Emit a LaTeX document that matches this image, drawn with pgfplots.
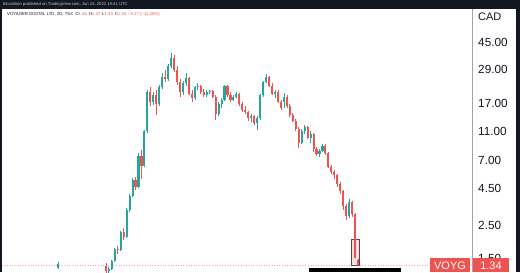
\documentclass[border=0pt]{standalone}
\usepackage{pgfplots}
\pgfplotsset{compat=1.18}
\usepackage{pgfplotstable}
\usepackage{fontspec}
\setmainfont{Liberation Sans}
\definecolor{up}{RGB}{38,166,154}
\definecolor{down}{RGB}{239,83,80}
\definecolor{tvdark}{RGB}{19,23,34}
\definecolor{axisgray}{RGB}{160,163,170}

% up candles: index, open, high, low, close
\pgfplotstableread{
x o h l c
19 1.29 1.40 1.26 1.36
36 1.22 1.30 1.18 1.26
37 1.26 1.45 1.24 1.42
38 1.42 1.75 1.40 1.72
40 1.70 2.30 1.68 2.25
42 2.08 3.30 2.05 3.20
43 3.20 4.10 3.10 4.00
44 4.00 5.30 3.90 5.10
46 4.60 7.80 4.50 7.50
48 6.40 11.2 6.30 11.0
49 11.0 21.0 10.8 20.5
51 17.5 20.5 16.8 19.5
53 17.0 23.0 16.5 22.0
54 22.0 27.5 21.5 26.0
56 25.0 32.0 24.5 31.0
57 31.0 38.0 30.0 35.0
61 20.5 24.5 19.5 23.5
62 23.5 27.5 22.5 25.5
65 18.5 22.5 18.0 22.0
66 22.0 23.5 21.0 22.5
69 19.5 21.0 19.0 20.5
70 20.5 21.0 19.8 20.8
73 14.5 17.5 14.0 17.0
74 17.0 18.5 16.0 18.0
75 18.0 23.0 17.8 22.5
78 18.0 19.5 17.8 19.0
79 19.0 20.5 18.5 20.0
84 13.5 14.5 12.8 14.0
86 12.5 14.0 11.3 13.5
87 13.5 20.0 13.2 19.5
88 19.5 24.5 19.0 24.0
89 24.0 27.0 23.5 26.0
92 20.0 21.0 18.5 20.5
95 17.5 20.2 15.8 19.0
101 9.2 11.5 9.0 11.0
102 11.0 12.2 10.5 11.8
104 10.0 11.0 9.2 10.6
107 7.7 8.3 7.4 8.1
108 8.1 9.0 7.9 8.7
117 2.9 3.8 2.8 3.6
}\upcandles

% down candles: index, open, high, low, close
\pgfplotstableread{
x o h l c
35 1.32 1.38 1.15 1.22
39 1.72 1.82 1.60 1.70
41 2.25 2.40 2.00 2.08
45 5.10 5.40 4.40 4.60
47 7.50 8.20 5.20 6.40
50 20.5 22.0 16.5 17.5
52 19.5 21.0 14.2 17.0
55 26.0 29.0 24.0 25.0
58 35.0 36.5 28.0 29.0
59 29.0 31.0 23.0 24.0
60 24.0 25.0 19.0 20.5
63 25.5 26.0 19.5 20.0
64 20.0 21.0 17.5 18.5
67 22.5 23.0 20.0 20.5
68 20.5 21.5 19.0 19.5
71 20.8 21.0 18.5 19.0
72 19.0 19.5 13.2 14.5
76 22.5 22.8 19.0 19.5
77 19.5 20.5 17.5 18.0
80 20.0 20.2 16.5 17.0
81 17.0 17.5 15.0 15.5
82 15.5 16.5 14.5 15.0
83 15.0 15.3 13.0 13.5
85 14.0 14.2 12.2 12.5
90 26.0 26.5 22.0 22.5
91 22.5 23.5 19.5 20.0
93 20.5 21.0 17.2 17.5
94 17.5 18.0 15.5 16.0
96 19.0 19.5 16.0 16.5
97 16.5 17.0 13.8 14.2
98 14.2 14.8 12.8 13.0
99 13.0 13.3 11.0 11.5
100 11.5 11.8 8.5 9.2
103 11.8 12.0 9.8 10.0
105 10.6 10.8 8.0 8.3
106 8.3 8.6 7.5 7.7
109 8.7 9.0 7.6 7.8
110 7.8 8.0 6.2 6.3
111 6.3 6.5 5.6 5.8
112 5.8 6.0 5.2 5.5
113 5.5 5.6 4.6 4.8
114 4.8 5.0 4.1 4.3
115 4.3 4.4 3.2 3.4
116 3.4 3.5 2.75 2.9
118 3.6 3.7 2.85 3.0
119 3.0 3.05 1.50 1.51
120 1.46 1.47 1.33 1.34
}\downcandles

\begin{document}
\begin{tikzpicture}[x=1bp,y=-1bp]
\useasboundingbox (0,0) rectangle (520,272);
\fill[tvdark] (0,0) rectangle (520,272);
\fill[white] (2,9) rectangle (516,272);
\begin{axis}[
  at={(2bp,-272bp)}, anchor=south west,
  scale only axis, width=470bp, height=263bp,
  xmin=0, xmax=158.4,
  ymode=log, ymin=1.203, ymax=75.67,
  axis line style={draw=none},
  xtick=\empty,
  ytick={1.5,2.5,4.5,7,11,17,29,45},
  yticklabels={1.50,2.50,4.50,7.00,11.00,17.00,29.00,45.00},
  yticklabel pos=right,
  major tick length=0pt,
  yticklabel style={font=\fontsize{11.8}{12}\selectfont, text=tvdark, anchor=west, inner sep=0pt, xshift=6bp},
  clip=true,
]
\addplot[down!55, dotted, line width=0.6bp, forget plot] coordinates {(0,1.34) (158.4,1.34)};
\draw[black!70, line width=0.5bp, fill=down!18] (axis cs:117.8,1.34) rectangle (axis cs:120.3,2.0);
% wicks
\addplot[draw=none, mark=none, forget plot,
  error bars/.cd, y dir=both, y explicit, error mark=none,
  error bar style={line width=0.7bp, up}]
  table[x=x, y=l, y error plus expr=\thisrow{h}-\thisrow{l}, y error minus expr=0] \upcandles;
\addplot[draw=none, mark=none, forget plot,
  error bars/.cd, y dir=both, y explicit, error mark=none,
  error bar style={line width=0.7bp, down}]
  table[x=x, y=l, y error plus expr=\thisrow{h}-\thisrow{l}, y error minus expr=0] \downcandles;
% bodies
\addplot[draw=none, mark=none, forget plot,
  error bars/.cd, y dir=both, y explicit, error mark=none,
  error bar style={line width=2.1bp, up}]
  table[x=x, y=o, y error plus expr=\thisrow{c}-\thisrow{o}, y error minus expr=0] \upcandles;
\addplot[draw=none, mark=none, forget plot,
  error bars/.cd, y dir=both, y explicit, error mark=none,
  error bar style={line width=2.1bp, down}]
  table[x=x, y=c, y error plus expr=\thisrow{o}-\thisrow{c}, y error minus expr=0] \downcandles;
\end{axis}
\draw[axisgray, line width=0.6bp] (472,9) -- (472,272);
\node[anchor=west, inner sep=0pt, text=tvdark, font=\fontsize{11}{12}\selectfont] at (478,17) {CAD};
\node[anchor=west, inner sep=0pt, text=white!78!black, font=\fontsize{4.2}{5}\selectfont] at (3,4.6) {bitcoinlion published on TradingView.com, Jun 16, 2022 18:41 UTC};
\node[anchor=west, inner sep=0pt, text=tvdark, font=\fontsize{4.3}{5}\selectfont] at (7,14.2) {VOYAGER DIGITAL LTD, 2D, TSX\enspace O\textcolor{down}{1.46}\, H\textcolor{down}{1.47}\, L\textcolor{down}{1.33}\, C\textcolor{down}{1.34}\, \textcolor{down}{−0.17 (−11.26\%)}};
\fill[black] (309,268) rectangle (401,272);
\fill[down] (430,258) rectangle (470,272);
\node[text=white, inner sep=0pt, font=\fontsize{11}{12}\selectfont] at (450,265.5) {VOYG};
\fill[down] (473,258) rectangle (509,272);
\node[text=white, inner sep=0pt, font=\fontsize{11}{12}\selectfont] at (491,265.5) {1.34};
\end{tikzpicture}
\end{document}
